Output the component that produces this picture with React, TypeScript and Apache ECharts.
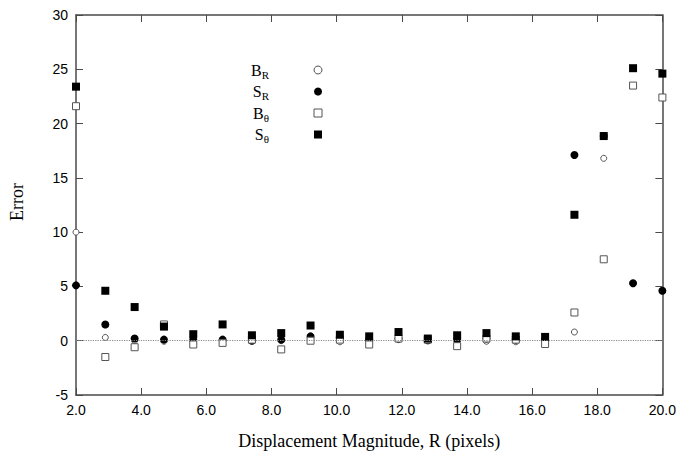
import React, { useEffect, useRef } from "react";
import * as echarts from "echarts";

const xValues = [2.0, 2.9, 3.8, 4.7, 5.6, 6.5, 7.4, 8.3, 9.2, 10.1, 11.0, 11.9, 12.8, 13.7, 14.6, 15.5, 16.4, 17.3, 18.2, 19.1, 20.0];
const bR = [10.0, 0.3, 0.0, -0.05, -0.1, -0.1, 0.0, 0.0, 0.2, -0.1, 0.0, 0.1, 0.0, 0.0, -0.05, -0.1, 0.0, 0.8, 16.8, 5.3, 4.6];
const sR = [5.1, 1.5, 0.2, 0.1, 0.1, 0.1, 0.0, 0.1, 0.4, 0.3, 0.1, 0.2, 0.05, 0.1, 0.2, 0.1, 0.1, 17.1, 18.85, 5.3, 4.6];
const bTheta = [21.6, -1.5, -0.6, 1.5, -0.35, -0.2, 0.1, -0.8, 0.0, 0.1, -0.35, 0.2, 0.1, -0.5, 0.2, 0.1, -0.3, 2.6, 7.5, 23.5, 22.4];
const sTheta = [23.4, 4.6, 3.1, 1.3, 0.6, 1.5, 0.5, 0.7, 1.4, 0.55, 0.4, 0.8, 0.2, 0.5, 0.7, 0.4, 0.35, 11.6, 18.85, 25.1, 24.6];
const seriesNames = ["B_R", "S_R", "B_θ", "S_θ"];
const xTitle = "Displacement Magnitude, R (pixels)";
const yTitle = "Error";

const SERIF = "'Liberation Serif', 'Times New Roman', serif";
const SANS = "'Liberation Sans', Arial, sans-serif";
const AXIS_COLOR = "#4a4a4a";

const pairs = (ys: number[]) => xValues.map((x, i) => [x, ys[i]]);

export default function App() {
  const ref = useRef<HTMLDivElement>(null);
  useEffect(() => {
    document.body.style.margin = "0";
    if (!ref.current) return;
    const chart = echarts.init(ref.current, null, { renderer: "svg" });
    const axisCommon = {
      axisLine: { show: true, onZero: false, lineStyle: { color: AXIS_COLOR, width: 1.5 } },
      axisTick: { show: true, inside: true, length: 7, lineStyle: { color: AXIS_COLOR, width: 1 } },
      splitLine: { show: false },
    };
    const openStyle = { color: "#ffffff", borderColor: "#555555", borderWidth: 1, opacity: 1 };
    const fillStyle = { color: "#000000", opacity: 1 };
    chart.setOption({
      animation: false,
      backgroundColor: "#ffffff",
      grid: { left: 76, right: 16, top: 15, bottom: 65, containLabel: false },
      xAxis: [
        {
          type: "value", min: 2, max: 20, interval: 2, position: "bottom",
          ...axisCommon,
          axisLabel: { color: "#000", fontFamily: SANS, fontSize: 14, margin: 8, formatter: (v: number) => v.toFixed(1) },
          name: xTitle, nameLocation: "middle", nameGap: 37,
          nameTextStyle: { color: "#000", fontFamily: SERIF, fontSize: 18 },
        },
        {
          type: "value", min: 2, max: 20, interval: 2, position: "top",
          ...axisCommon, axisLabel: { show: false },
        },
      ],
      yAxis: [
        {
          type: "value", min: -5, max: 30, interval: 5, position: "left",
          ...axisCommon,
          axisLabel: { color: "#000", fontFamily: SANS, fontSize: 14, margin: 8 },
          name: yTitle, nameLocation: "middle", nameRotate: 90, nameGap: 50,
          nameTextStyle: { color: "#000", fontFamily: SERIF, fontSize: 18, padding: [0, 0, 0, 6] },
        },
        {
          type: "value", min: -5, max: 30, interval: 5, position: "right",
          ...axisCommon, axisLabel: { show: false },
        },
      ],
      legend: {
        orient: "vertical",
        align: "right",
        left: 246,
        top: 57,
        itemGap: 3.5,
        itemWidth: 8,
        itemHeight: 8,
        itemStyle: { borderWidth: 1 },
        data: seriesNames,
        formatter: (name: string) => {
          const [m, s] = name.split("_");
          return `{m|${m}}{s|${s}}`;
        },
        textStyle: {
          padding: [0, 40, 0, 0],
          rich: {
            m: { fontFamily: SERIF, fontSize: 16, color: "#000", lineHeight: 20 },
            s: { fontFamily: SERIF, fontSize: 11, color: "#000", lineHeight: 10, verticalAlign: "bottom" },
          },
        },
      },
      series: [
        {
          name: seriesNames[0], type: "scatter", data: pairs(bR), symbol: "circle", symbolSize: 6,
          itemStyle: openStyle, clip: false,
          markLine: {
            silent: true, symbol: ["none", "none"], label: { show: false },
            lineStyle: { type: "dotted", color: "#888", width: 1.2 },
            data: [{ yAxis: 0 }],
          },
        },
        { name: seriesNames[1], type: "scatter", data: pairs(sR), symbol: "circle", symbolSize: 8, itemStyle: fillStyle, clip: false },
        { name: seriesNames[2], type: "scatter", data: pairs(bTheta), symbol: "rect", symbolSize: 7, itemStyle: openStyle, clip: false },
        { name: seriesNames[3], type: "scatter", data: pairs(sTheta), symbol: "rect", symbolSize: 8, itemStyle: fillStyle, clip: false },
      ],
    });
    return () => chart.dispose();
  }, []);
  return <div ref={ref} style={{ width: 679, height: 460 }} />;
}
